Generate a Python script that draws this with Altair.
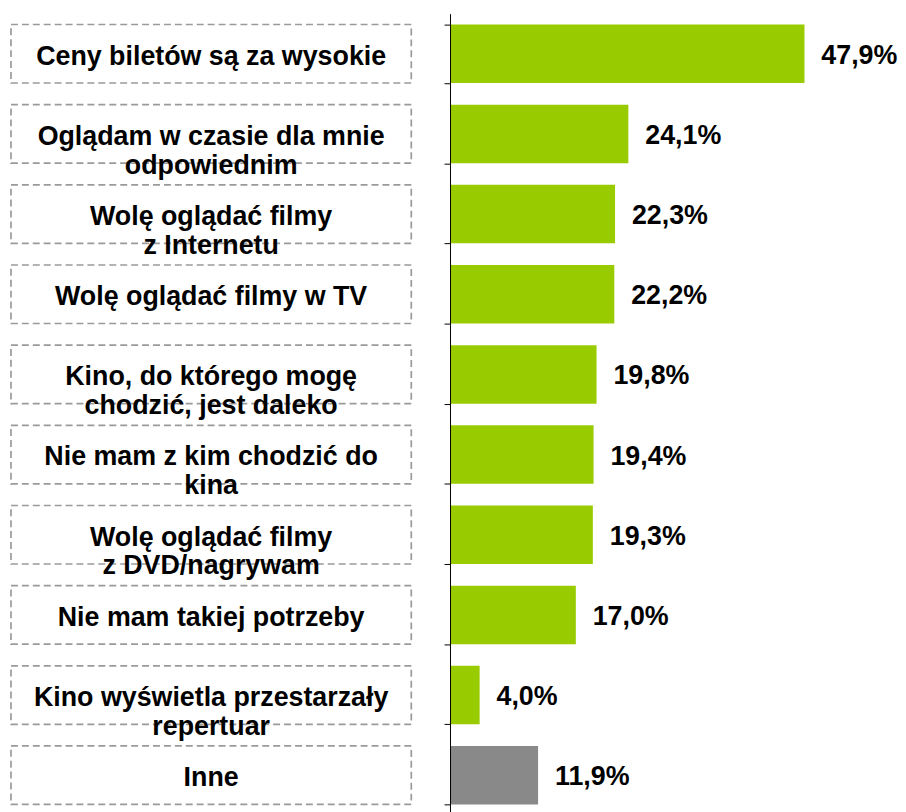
import altair as alt
import pandas as pd

categories = [
    "Ceny biletów są za wysokie",
    "Oglądam w czasie dla mnie odpowiednim",
    "Wolę oglądać filmy z Internetu",
    "Wolę oglądać filmy w TV",
    "Kino, do którego mogę chodzić, jest daleko",
    "Nie mam z kim chodzić do kina",
    "Wolę oglądać filmy z DVD/nagrywam",
    "Nie mam takiej potrzeby",
    "Kino wyświetla przestarzały repertuar",
    "Inne",
]
label_lines = [
    ["Ceny biletów są za wysokie"],
    ["Oglądam w czasie dla mnie", "odpowiednim"],
    ["Wolę oglądać filmy", "z Internetu"],
    ["Wolę oglądać filmy w TV"],
    ["Kino, do którego mogę", "chodzić, jest daleko"],
    ["Nie mam z kim chodzić do", "kina"],
    ["Wolę oglądać filmy", "z DVD/nagrywam"],
    ["Nie mam takiej potrzeby"],
    ["Kino wyświetla przestarzały", "repertuar"],
    ["Inne"],
]
values = [47.9, 24.1, 22.3, 22.2, 19.8, 19.4, 19.3, 17.0, 4.0, 11.9]
groups = ["main"] * 9 + ["other"]

df = pd.DataFrame({
    "key": categories,
    "lines": label_lines,
    "value": values,
    "group": groups,
    "label": [f"{v:.1f}".replace(".", ",") + "%" for v in values],
})

FONT = "Liberation Sans"

base = alt.Chart(df).encode(
    y=alt.Y(
        "key:N",
        sort=categories,
        title=None,
        scale=alt.Scale(paddingInner=0.27, paddingOuter=0.135),
        axis=alt.Axis(
            labels=False, grid=False, domain=True, domainColor="#000000",
            domainWidth=1, ticks=True, tickColor="#000000", tickSize=6,
            tickWidth=1, tickBand="extent", title=None,
        ),
    )
)

bars = base.mark_bar().encode(
    x=alt.X("value:Q", scale=alt.Scale(domain=[0, 60]), axis=None),
    color=alt.Color(
        "group:N",
        scale=alt.Scale(domain=["main", "other"], range=["#99CC00", "#898989"]),
        legend=None,
    ),
)

value_text = base.mark_text(
    align="left", baseline="middle", dx=17, dy=2,
    fontSize=27, fontWeight="bold", font=FONT, color="#000000",
).encode(x="value:Q", text="label:N")

boxes = base.mark_rect(
    fill="transparent", stroke="#9a9a9a", strokeWidth=1.7, strokeDash=[7, 4],
).encode(x=alt.value(-442), x2=alt.value(-39))

cat_text = base.mark_text(
    align="center", baseline="middle", fontSize=27, fontWeight="bold",
    font=FONT, color="#000000", lineHeight=29, dy=3,
).encode(x=alt.value(-240.5), text="lines")

chart = alt.layer(boxes, cat_text, bars, value_text).properties(
    width=447, height=807,
    padding={"left": 2, "top": 3, "right": 0, "bottom": 0},
).configure_view(stroke=None)

chart.save("out.html", embed_options={"renderer": "svg", "actions": False})
